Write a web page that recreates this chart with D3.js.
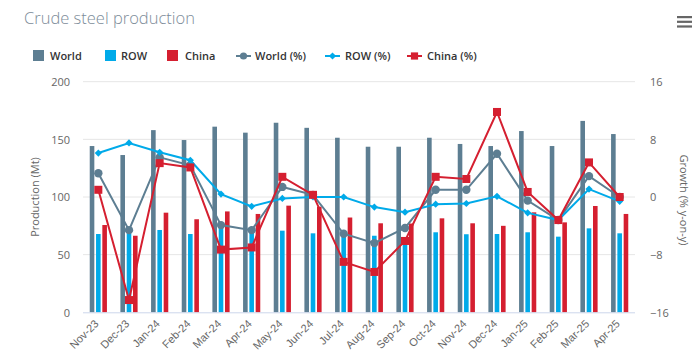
<!DOCTYPE html>
<html><head><meta charset="utf-8">
<script src="https://cdn.jsdelivr.net/npm/d3@7"></script>
<style>
html,body{margin:0;padding:0;background:#fff;}
svg{display:block;font-family:"Open Sans","Noto Sans",sans-serif;}
</style></head>
<body>
<svg id="c" width="700" height="357"></svg>
<script>
const months = ["Nov-23","Dec-23","Jan-24","Feb-24","Mar-24","Apr-24","May-24","Jun-24","Jul-24","Aug-24","Sep-24","Oct-24","Nov-24","Dec-24","Jan-25","Feb-25","Mar-25","Apr-25"];
const worldMt = [144.2,136.4,158,149.4,161,155.8,164.4,160,151.4,143.6,143.6,151.4,146,144.2,157.2,144.2,166,154.6];
const rowMt   = [67.9,68.5,71.4,67.9,74,71.4,70.8,68.5,66.4,66.4,64.2,69.4,67.7,67.9,69.4,65.6,72.8,68.5];
const chinaMt = [75.7,66.4,86.4,80.7,87.5,85.3,92.5,91.6,82.2,77.2,77,81.5,77.2,75,86.7,78,92.2,85.3];
const worldPct = [3.3,-4.6,5.5,4.4,-3.9,-4.6,1.4,0.3,-5.1,-6.4,-4.3,1.0,1.0,6.0,-0.5,-3.2,2.9,0.0];
const rowPct   = [6.1,7.5,6.2,5.1,0.4,-1.3,-0.2,0.0,0.0,-1.4,-2.1,-1.0,-0.9,0.1,-2.2,-3.2,1.1,-0.6];
const chinaPct = [1.0,-14.3,4.7,4.1,-7.3,-7.0,2.8,0.3,-9.0,-10.4,-6.1,2.8,2.5,11.8,0.7,-3.2,4.8,0.0];
const leftTicks = [0,50,100,150,200];
const rightTicks = [-16,-8,0,8,16];

const C = {world:"#5d7e92", row:"#00aae9", china:"#d51f30"};
const svg = d3.select("#c");
const x = d3.scaleBand().domain(months).range([83,635]).padding(0);
const yL = d3.scaleLinear().domain([0,200]).range([312.3,81.7]);
const yR = d3.scaleLinear().domain([-16,16]).range([312.3,81.7]);

// title
svg.append("text").attr("x",24).attr("y",24).attr("font-size",16.5).attr("font-weight",300)
  .attr("fill","#7d8c99").text("Crude steel production");
// menu icon
[17,21.7,26.4].forEach(yy=>svg.append("rect").attr("x",677).attr("y",yy-1).attr("width",15).attr("height",2.2).attr("fill","#666"));

// gridlines
const gL = svg.append("g");
leftTicks.forEach(t=>{
  if(t!==0) gL.append("line").attr("x1",83).attr("x2",635).attr("y1",yL(t)).attr("y2",yL(t)).attr("stroke","#e6e6e6").attr("stroke-width",1);
});
// left axis labels
const axL = d3.axisLeft(yL).tickValues(leftTicks).tickSize(0).tickPadding(0);
svg.append("g").attr("transform","translate(70,0)").call(axL)
  .call(g=>g.select(".domain").remove())
  .call(g=>g.selectAll("text").attr("fill","#666").attr("font-size",11).attr("font-family","'Open Sans',sans-serif").attr("dy","0.35em"));
const axR = d3.axisRight(yR).tickValues(rightTicks).tickSize(0).tickPadding(0);
svg.append("g").attr("transform","translate(650,0)").call(axR)
  .call(g=>g.select(".domain").remove())
  .call(g=>g.selectAll("text").attr("fill","#666").attr("font-size",11).attr("font-family","'Open Sans',sans-serif").attr("dy","0.35em"));

// axis titles
svg.append("text").attr("transform","translate(39,197) rotate(-90)").attr("text-anchor","middle")
  .attr("font-size",11).attr("fill","#666").text("Production (Mt)");
svg.append("text").attr("transform","translate(680,200) rotate(90)").attr("text-anchor","middle")
  .attr("font-size",11).attr("fill","#666").text("Growth (% y-on-y)");

// bars
const bw = 4.6, off = 6.3;
const bars = [[worldMt,C.world,-off],[rowMt,C.row,0],[chinaMt,C.china,off]];
bars.forEach(([vals,col,o])=>{
  svg.append("g").selectAll("rect").data(months).join("rect")
    .attr("x",(d)=>x(d)+x.bandwidth()/2+o-bw/2)
    .attr("y",(d,i)=>yL(vals[i]))
    .attr("width",bw)
    .attr("height",(d,i)=>yL(0)-yL(vals[i]))
    .attr("fill",col);
});

// x axis baseline
svg.append("line").attr("x1",83).attr("x2",635).attr("y1",yL(0)+0.5).attr("y2",yL(0)+0.5).attr("stroke","#ccd6eb").attr("stroke-width",1);

// x labels
const axB = d3.axisBottom(x).tickSize(0).tickPadding(0);
svg.append("g").attr("transform",`translate(0,${yL(0)})`).call(axB)
  .call(g=>g.select(".domain").remove())
  .call(g=>g.selectAll("text").attr("fill","#666").attr("font-size",11)
     .attr("text-anchor","end").attr("dy",null).attr("y",0)
     .attr("transform","translate(1,12) rotate(-45)"));

// lines
const cx = d=>x(d)+x.bandwidth()/2;
function drawLine(vals,col,shape){
  const line = d3.line().x((d,i)=>cx(months[i])).y(d=>yR(d));
  svg.append("path").datum(vals).attr("d",line).attr("fill","none").attr("stroke",col).attr("stroke-width",2);
  const g = svg.append("g");
  vals.forEach((v,i)=>{
    const px=cx(months[i]), py=yR(v);
    if(shape==="circle") g.append("circle").attr("cx",px).attr("cy",py).attr("r",4.2).attr("fill",col);
    else if(shape==="diamond") g.append("path").attr("d",`M${px},${py-3.6}L${px+3.6},${py}L${px},${py+3.6}L${px-3.6},${py}Z`).attr("fill",col);
    else g.append("rect").attr("x",px-4).attr("y",py-4).attr("width",8).attr("height",8).attr("fill",col);
  });
}
drawLine(worldPct,C.world,"circle");
drawLine(rowPct,C.row,"diamond");
drawLine(chinaPct,C.china,"square");

// legend
const lg = svg.append("g").attr("font-size",11).attr("font-weight",600).attr("fill","#333");
const legItems = [
  {t:"World",c:C.world,k:"bar",x:33,tx:50},
  {t:"ROW",c:C.row,k:"bar",x:105,tx:121},
  {t:"China",c:C.china,k:"bar",x:167,tx:185},
  {t:"World (%)",c:C.world,k:"circle",x:236,tx:255},
  {t:"ROW (%)",c:C.row,k:"diamond",x:325,tx:345},
  {t:"China (%)",c:C.china,k:"square",x:407,tx:427}
];
const ly=56;
legItems.forEach(it=>{
  if(it.k==="bar"){
    lg.append("rect").attr("x",it.x).attr("y",ly-6).attr("width",11).attr("height",11).attr("fill",it.c);
  } else {
    lg.append("line").attr("x1",it.x).attr("x2",it.x+15).attr("y1",ly).attr("y2",ly).attr("stroke",it.c).attr("stroke-width",2);
    const px=it.x+7.5;
    if(it.k==="circle") lg.append("circle").attr("cx",px).attr("cy",ly).attr("r",3.6).attr("fill",it.c);
    else if(it.k==="diamond") lg.append("path").attr("d",`M${px},${ly-3.6}L${px+3.6},${ly}L${px},${ly+3.6}L${px-3.6},${ly}Z`).attr("fill",it.c);
    else lg.append("rect").attr("x",px-3.6).attr("y",ly-3.6).attr("width",7.2).attr("height",7.2).attr("fill",it.c);
  }
  lg.append("text").attr("x",it.tx).attr("y",ly+4).attr("fill","#333").text(it.t);
});
</script>
</body></html>
